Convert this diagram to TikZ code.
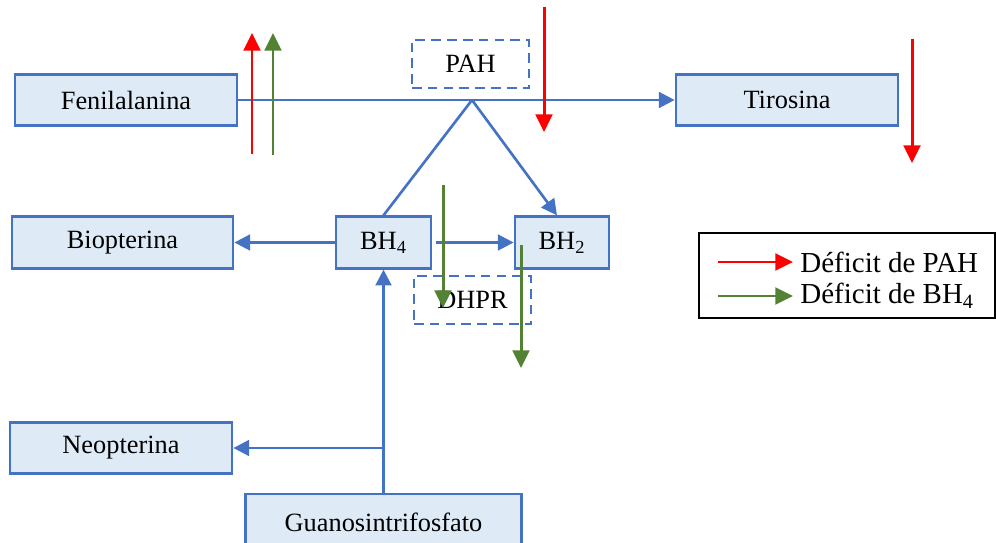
\documentclass[tikz,border=0pt]{standalone}
\usepackage{fontspec}
\setmainfont{Liberation Serif}
\usetikzlibrary{arrows.meta}

\definecolor{azul}{HTML}{4472C4}
\definecolor{celeste}{HTML}{DEEBF7}
\definecolor{verde}{HTML}{548235}

\begin{document}
\begin{tikzpicture}[x=0.02cm, y=-0.02cm,
    caja/.style={draw=azul, fill=celeste, line width=1.6pt, minimum height=1.03cm,
      inner sep=2pt, font=\fontsize{15}{18}\selectfont},
    enzima/.style={draw=azul, dash pattern=on 5.5pt off 3.5pt, line width=1.5pt,
      minimum width=2.34cm, minimum height=0.96cm, font=\fontsize{15}{18}\selectfont},
    linea/.style={draw=azul, line width=1.5pt},
    flecha/.style={linea, -{Triangle[length=9pt,width=9pt]}},
    deficit/.style={line width=1.7pt, -{Triangle[length=10pt,width=9.5pt]}},
    leyenda/.style={anchor=west, inner sep=0pt, font=\fontsize{16.5}{20}\selectfont}
  ]
    % Marco de la figura
    \clip (0,0) rectangle (996,543);

    % Metabolitos y enzimas
    \node[caja, minimum width=4.44cm] (fen) at (126,100) {Fenilalanina};
    \node[enzima] (pah) at (470.5,64) {PAH};
    \node[caja, minimum width=4.44cm] (tir) at (787,100) {Tirosina};
    \node[caja, minimum width=4.42cm] (bio) at (122.5,242.5) {Biopterina};
    \node[caja, minimum width=1.9cm] (bh4) at (383.5,242.5) {BH\textsubscript{4}};
    \node[caja, minimum width=1.88cm] (bh2) at (562,242.5) {BH\textsubscript{2}};
    \node[enzima] (dhpr) at (472.5,300) {DHPR};
    \node[caja, minimum width=4.44cm] (neo) at (121,448) {Neopterina};
    \node[caja, minimum width=5.52cm, minimum height=1.12cm] (gtp) at (383.5,522)
      {Guanosintrifosfato};
    \coordinate (vertice) at (472,100);

    % Reacciones
    \draw[flecha] (fen) -- (tir);
    \draw[linea] (vertice) -- (bh4.north);
    \draw[flecha] (vertice) -- ([xshift=-0.1cm]bh2.north);
    \draw[flecha] (bh4) -- (bio);
    \draw[flecha, shorten <=2pt] (bh4) -- (bh2);
    \draw[flecha] (gtp) -- (bh4);
    \draw[flecha] (bh4 |- neo) -- (neo);

    % Flechas de deficit
    \foreach \x/\ya/\yb/\col in {
      252/154/33/red,
      273/155/33/verde,
      544/7/132/red,
      912/39/163/red,
      443/185/308/verde,
      521/245/368/verde} {
      \draw[deficit, draw=\col, fill=\col] (\x,\ya) -- (\x,\yb);
    }

    % Leyenda
    \draw[line width=0.9pt] (699,233) rectangle (995,318);
    \node[leyenda] (legpah) at (800,262) {Déficit de PAH};
    \node[leyenda] (legbh) at (800,296) {Déficit de BH\textsubscript{4}};
    \draw[deficit, red] ([xshift=-1.64cm]legpah.west) -- ([xshift=-0.14cm]legpah.west);
    \draw[deficit, verde] ([xshift=-1.64cm]legbh.west) -- ([xshift=-0.14cm]legbh.west);
  \end{tikzpicture}
\end{document}
